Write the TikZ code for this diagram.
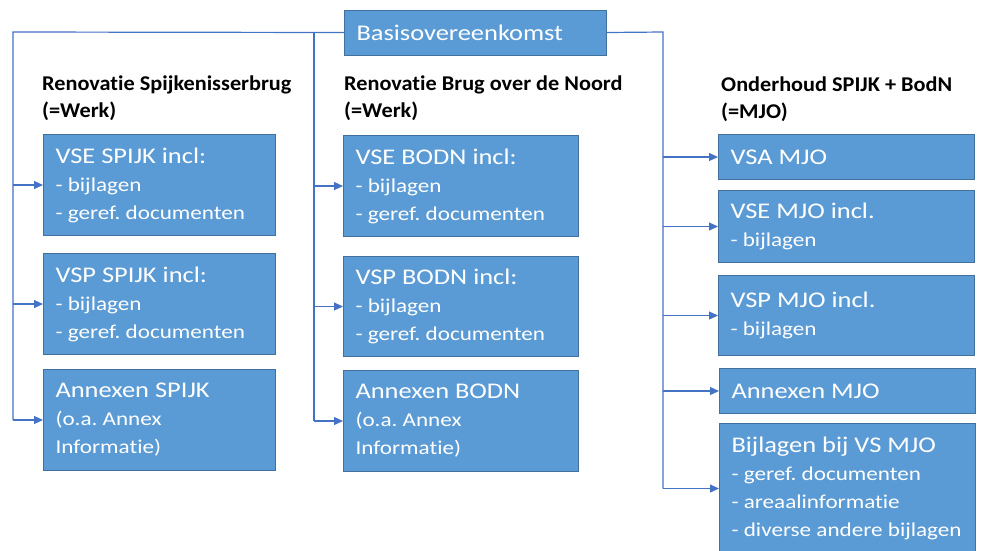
\documentclass[tikz,border=0pt]{standalone}
\usepackage{fontspec}
\setmainfont{Carlito}[FakeStretch=1.18, Ligatures=NoCommon]
\newfontfamily\headfont{Carlito}[FakeStretch=1.06, Ligatures=NoCommon]
\usetikzlibrary{arrows.meta}
\definecolor{boxfill}{HTML}{5B9BD5}
\definecolor{boxline}{HTML}{41719C}
\definecolor{connc}{HTML}{4472C4}
\newcommand\txtA{\fontsize{22.4}{28}\selectfont}
\newcommand\txtB{\fontsize{19.6}{28}\selectfont}
\frenchspacing
\begin{document}
\begin{tikzpicture}[x=1pt,y=-1pt,
  box/.style={draw=boxline, fill=boxfill, line width=1pt, text=white, align=flush left,
    anchor=north west, inner xsep=12pt, inner ysep=0pt, font=\txtA},
  head/.style={anchor=base west, align=flush left, font=\headfont\fontsize{21}{27}\selectfont\bfseries, inner sep=0pt},
  conn/.style={draw=connc, line width=1.2pt},
  arr/.style={conn, -{Triangle[length=9pt,width=8pt]}}
]
\useasboundingbox (0,0) rectangle (981,550);

% top box
\node[box, minimum width=262, minimum height=45, text width=238] (basis) at (344,9.5) {Basisovereenkomst};

% headings
\node[head] (h1) at (42,117) {Renovatie Spijkenisserbrug\\(=Werk)};
\node[head] (h2) at (344,117) {Renovatie Brug over de Noord\\(=Werk)};
\node[head] (h3) at (721,118) {Onderhoud SPIJK + BodN\\(=MJO)};

% left column
\node[box, minimum width=232, minimum height=101, text width=208] (vse1) at (43,134)
  {VSE SPIJK incl:\\\txtB - bijlagen\\\txtB - geref. documenten};
\node[box, minimum width=232, minimum height=101, text width=208] (vsp1) at (43,253)
  {VSP SPIJK incl:\\\txtB - bijlagen\\\txtB - geref. documenten};
\node[box, minimum width=232, minimum height=101, text width=208] (ann1) at (43,369)
  {Annexen SPIJK\\\txtB (o.a. Annex\\\txtB Informatie)};

% middle column
\node[box, minimum width=235, minimum height=101, text width=211] (vse2) at (343,135)
  {VSE BODN incl:\\\txtB - bijlagen\\\txtB - geref. documenten};
\node[box, minimum width=235, minimum height=100, text width=211] (vsp2) at (343,256)
  {VSP BODN incl:\\\txtB - bijlagen\\\txtB - geref. documenten};
\node[box, minimum width=235, minimum height=101, text width=211] (ann2) at (343,370)
  {Annexen BODN\\\txtB (o.a. Annex\\\txtB Informatie)};

% right column
\node[box, minimum width=256, minimum height=45, text width=232] (vsa3) at (718,134) {VSA MJO};
\node[box, minimum width=256, minimum height=72, text width=232] (vse3) at (718,190)
  {VSE MJO incl.\\\txtB - bijlagen};
\node[box, minimum width=256, minimum height=80, text width=232] (vsp3) at (718,275)
  {VSP MJO incl.\\\txtB - bijlagen};
\node[box, minimum width=256, minimum height=45, text width=232] (ann3) at (719,368) {Annexen MJO};
\node[box, minimum width=256, minimum height=130, text width=232] (bij3) at (719,423)
  {Bijlagen bij VS MJO\\\txtB - geref. documenten\\\txtB - areaalinformatie\\\txtB - diverse andere bijlagen};

% connectors
\coordinate (L) at (13,32);
\coordinate (M) at (314,32);
\coordinate (R) at (663,32);
\draw[conn] (basis.west) -- (L) -- (L |- ann1.west);
\draw[conn] (M) -- (M |- ann2.west);
\draw[conn] (basis.east) -- (R) -- (R |- bij3.west);

\draw[arr] (L |- vse1.west) -- (vse1.west);
\draw[arr] (L |- vsp1.west) -- (vsp1.west);
\draw[arr] (L |- ann1.west) -- (ann1.west);
\draw[arr] (M |- vse2.west) -- (vse2.west);
\draw[arr] (M |- vsp2.west) -- (vsp2.west);
\draw[arr] (M |- ann2.west) -- (ann2.west);
\draw[arr] (R |- vsa3.west) -- (vsa3.west);
\draw[arr] (R |- vse3.west) -- (vse3.west);
\draw[arr] (R |- vsp3.west) -- (vsp3.west);
\draw[arr] (R |- ann3.west) -- (ann3.west);
\draw[arr] (R |- bij3.west) -- (bij3.west);
\end{tikzpicture}
\end{document}
